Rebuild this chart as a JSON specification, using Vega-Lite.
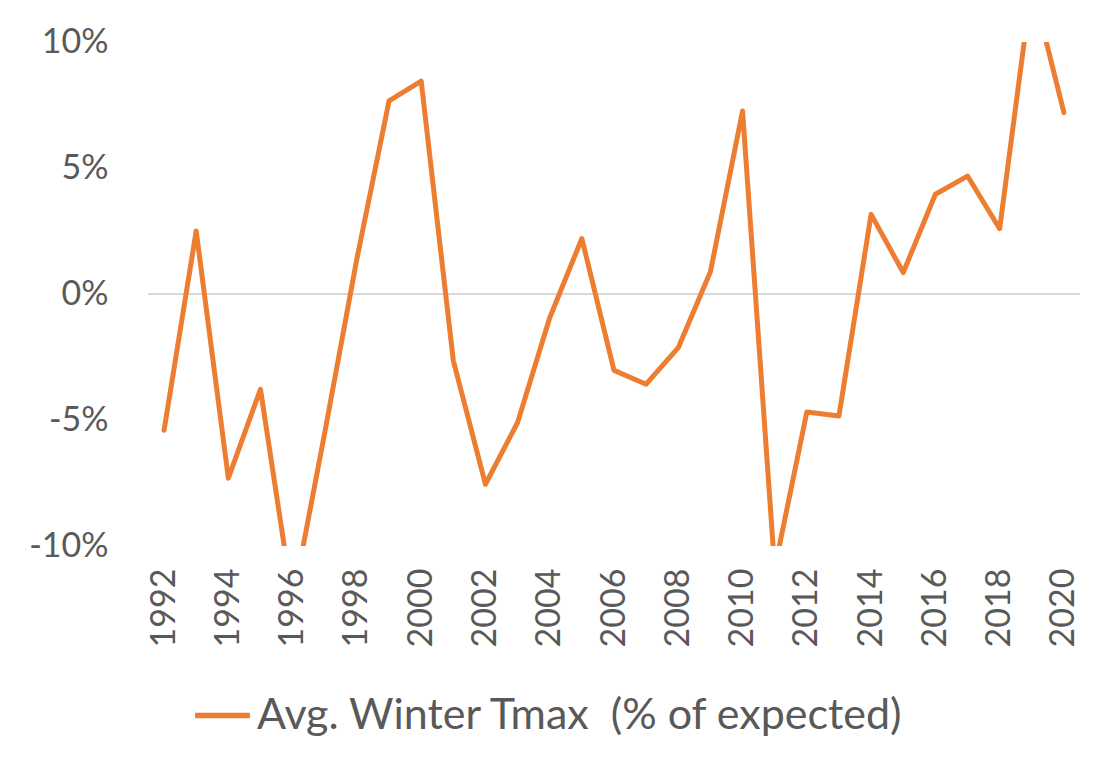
{
  "$schema": "https://vega.github.io/schema/vega-lite/v6.json",
  "width": 932,
  "height": 504,
  "autosize": {"type": "none"},
  "padding": {"left": 148, "top": 42, "right": 21, "bottom": 218},
  "background": "white",
  "config": {
    "view": {"stroke": null},
    "font": "Lato"
  },
  "data": {
    "values": [
      {"year": "1992", "value": -5.41, "series": "Avg. Winter Tmax \u00a0(% of expected)"},
      {"year": "1993", "value": 2.5, "series": "Avg. Winter Tmax \u00a0(% of expected)"},
      {"year": "1994", "value": -7.31, "series": "Avg. Winter Tmax \u00a0(% of expected)"},
      {"year": "1995", "value": -3.78, "series": "Avg. Winter Tmax \u00a0(% of expected)"},
      {"year": "1996", "value": -12.2, "series": "Avg. Winter Tmax \u00a0(% of expected)"},
      {"year": "1997", "value": -5.5, "series": "Avg. Winter Tmax \u00a0(% of expected)"},
      {"year": "1998", "value": 1.4, "series": "Avg. Winter Tmax \u00a0(% of expected)"},
      {"year": "1999", "value": 7.66, "series": "Avg. Winter Tmax \u00a0(% of expected)"},
      {"year": "2000", "value": 8.45, "series": "Avg. Winter Tmax \u00a0(% of expected)"},
      {"year": "2001", "value": -2.64, "series": "Avg. Winter Tmax \u00a0(% of expected)"},
      {"year": "2002", "value": -7.55, "series": "Avg. Winter Tmax \u00a0(% of expected)"},
      {"year": "2003", "value": -5.1, "series": "Avg. Winter Tmax \u00a0(% of expected)"},
      {"year": "2004", "value": -0.94, "series": "Avg. Winter Tmax \u00a0(% of expected)"},
      {"year": "2005", "value": 2.2, "series": "Avg. Winter Tmax \u00a0(% of expected)"},
      {"year": "2006", "value": -3.03, "series": "Avg. Winter Tmax \u00a0(% of expected)"},
      {"year": "2007", "value": -3.58, "series": "Avg. Winter Tmax \u00a0(% of expected)"},
      {"year": "2008", "value": -2.13, "series": "Avg. Winter Tmax \u00a0(% of expected)"},
      {"year": "2009", "value": 0.88, "series": "Avg. Winter Tmax \u00a0(% of expected)"},
      {"year": "2010", "value": 7.26, "series": "Avg. Winter Tmax \u00a0(% of expected)"},
      {"year": "2011", "value": -10.9, "series": "Avg. Winter Tmax \u00a0(% of expected)"},
      {"year": "2012", "value": -4.68, "series": "Avg. Winter Tmax \u00a0(% of expected)"},
      {"year": "2013", "value": -4.84, "series": "Avg. Winter Tmax \u00a0(% of expected)"},
      {"year": "2014", "value": 3.16, "series": "Avg. Winter Tmax \u00a0(% of expected)"},
      {"year": "2015", "value": 0.85, "series": "Avg. Winter Tmax \u00a0(% of expected)"},
      {"year": "2016", "value": 3.96, "series": "Avg. Winter Tmax \u00a0(% of expected)"},
      {"year": "2017", "value": 4.68, "series": "Avg. Winter Tmax \u00a0(% of expected)"},
      {"year": "2018", "value": 2.59, "series": "Avg. Winter Tmax \u00a0(% of expected)"},
      {"year": "2019", "value": 12.3, "series": "Avg. Winter Tmax \u00a0(% of expected)"},
      {"year": "2020", "value": 7.2, "series": "Avg. Winter Tmax \u00a0(% of expected)"}
    ]
  },
  "layer": [
    {
      "mark": {"type": "rule", "color": "#D9D9D9", "strokeWidth": 1.5},
      "encoding": {"y": {"datum": 0, "type": "quantitative"}}
    },
    {
      "mark": {"type": "line", "clip": true, "strokeWidth": 5, "strokeCap": "round", "strokeJoin": "round"},
      "encoding": {
        "x": {
          "field": "year",
          "type": "ordinal",
          "scale": {"type": "point", "padding": 0.5},
          "axis": {
            "title": null,
            "values": ["1992","1994","1996","1998","2000","2002","2004","2006","2008","2010","2012","2014","2016","2018","2020"],
            "labelAngle": -90,
            "labelAlign": "right",
            "labelBaseline": "middle",
            "labelFontSize": 34,
            "labelColor": "#595959",
            "labelPadding": 22,
            "ticks": false,
            "domain": false,
            "grid": false
          }
        },
        "y": {
          "field": "value",
          "type": "quantitative",
          "scale": {"domain": [-10, 10], "nice": false, "zero": false},
          "axis": {
            "title": null,
            "values": [-10, -5, 0, 5, 10],
            "labelExpr": "datum.value + '%'",
            "labelFontSize": 34,
            "labelColor": "#595959",
            "labelPadding": 40,
            "ticks": false,
            "domain": false,
            "grid": false
          }
        },
        "color": {
          "field": "series",
          "type": "nominal",
          "scale": {"range": ["#ED7D31"]},
          "legend": {
            "title": null,
            "orient": "none",
            "legendX": 44,
            "legendY": 643,
            "symbolType": "stroke",
            "symbolSize": 3000,
            "symbolStrokeWidth": 5.5,
            "labelFontSize": 43,
            "labelColor": "#595959",
            "labelOffset": 4,
            "labelLimit": 0
          }
        }
      }
    }
  ]
}
